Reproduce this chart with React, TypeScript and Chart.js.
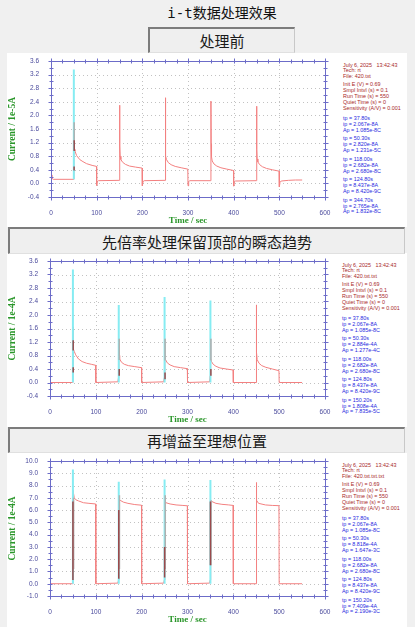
import React, { useEffect, useRef } from "react";
import { Chart, registerables } from "chart.js";
Chart.register(...registerables);

// ---------- data ----------
const timeTicks = [0, 100, 200, 300, 400, 500, 600];

// Panel 1: raw i-t (1e-5 A)
const beforeTrace: [number, number][] = [
  [0, 0.25], [2, 0.15], [5, 0.12], [49.8, 0.12], [50.2, 1.27], [51, 1.0], [52.5, 0.95], [56, 0.82], [63, 0.7], [70, 0.64], [78, 0.58], [90, 0.53], [99.6, 0.5],
  [100, -0.06], [101.5, 0.05], [104, 0.08], [149.8, 0.09],
  [150.2, 2.3], [150.8, 1.1], [151.5, 0.8], [153, 0.7], [157, 0.62], [163, 0.56], [172, 0.51], [185, 0.48], [199.6, 0.45],
  [200, -0.07], [201.5, 0.05], [204, 0.08], [249.8, 0.09],
  [250.2, 2.52], [250.8, 1.1], [251.5, 0.8], [253, 0.7], [257, 0.61], [263, 0.55], [272, 0.5], [285, 0.46], [299.6, 0.42],
  [300, -0.07], [301.5, 0.05], [304, 0.08], [349.8, 0.08],
  [350.2, 2.42], [350.8, 1.15], [351.5, 0.78], [353, 0.66], [357, 0.57], [363, 0.51], [372, 0.46], [385, 0.42], [399.6, 0.38],
  [400, -0.08], [401.5, 0.04], [404, 0.07], [449.8, 0.08],
  [450.2, 2.27], [450.8, 1.0], [451.5, 0.72], [453, 0.63], [457, 0.55], [463, 0.49], [472, 0.44], [485, 0.4], [499.6, 0.36],
  [500, -0.1], [501.5, 0.03], [504, 0.07], [520, 0.09], [535, 0.1], [550, 0.1],
];
const beforeCyan: [number, number, number][] = [[50, 0.12, 3.35]];
const beforeGray: [number, number, number][] = [[50.8, 1.2, 1.8]];
const beforeDark: [number, number, number][] = [[50.8, 0.95, 1.27], [50.6, 0.38, 0.5]];

// Panel 2: scaled, top transient kept (1e-4 A)
const scaledTrace: [number, number][] = [
  [0, 0], [49.8, 0], [50.3, 0.4], [50.6, 1.65], [51, 1.0], [53, 0.92], [56, 0.82], [62, 0.7], [70, 0.62], [80, 0.57], [90, 0.54], [99.6, 0.51], [100, 0],
  [148, 0.02], [149.5, 0.15], [150.2, 1.3], [150.8, 0.8], [152, 0.7], [156, 0.6], [162, 0.54], [171, 0.5], [185, 0.47], [199.6, 0.44], [200, 0],
  [248, 0.02], [249.5, 0.15], [250.2, 1.3], [250.8, 0.78], [252, 0.68], [256, 0.58], [262, 0.52], [271, 0.47], [285, 0.44], [299.6, 0.41], [300, 0],
  [348, 0.02], [349.5, 0.2], [350.2, 1.3], [350.8, 0.72], [352, 0.63], [356, 0.54], [362, 0.48], [371, 0.43], [385, 0.4], [399.6, 0.37], [400, 0],
  [449.8, 0], [450.2, 2.3], [450.8, 0.9], [452, 0.68], [456, 0.57], [462, 0.5], [471, 0.45], [485, 0.4], [499.6, 0.35], [500, 0], [550, 0],
];
const scaledCyan: [number, number, number][] = [[50, 0, 3.35], [150, 0, 2.3], [250, 0, 2.53], [350, 0, 2.43]];
const scaledGray: [number, number, number][] = [[151, 0.67, 1.3], [251, 0.65, 1.3], [351, 0.65, 1.3]];
const scaledDark: [number, number, number][] = [[50.6, 0.95, 1.25], [50.6, 0.3, 0.45], [151, 0.2, 0.4], [251, 0.1, 0.3], [351, 0.2, 0.4]];

// Panel 3: gained to target level (1e-4 A)
const gainedTrace: [number, number][] = [
  [0, 0], [49.8, 0], [50.2, 0.3], [50.8, 7.6], [51.5, 7.4], [53, 7.0], [56, 6.85], [62, 6.75], [73, 6.6], [85, 6.55], [99.6, 6.5], [100, 0],
  [148, 0.05], [149.5, 0.3], [150.5, 6.8], [153, 6.8], [160, 6.65], [170, 6.55], [185, 6.45], [199.6, 6.4], [200, 0],
  [248, 0.05], [249.5, 0.3], [250.5, 6.7], [253, 6.6], [262, 6.5], [275, 6.42], [290, 6.38], [299.6, 6.35], [300, 0],
  [348, 0.05], [349.5, 0.3], [350.5, 6.8], [353, 6.7], [362, 6.55], [375, 6.47], [390, 6.42], [399.6, 6.38], [400, 0],
  [449.8, 0], [450.2, 8.25], [451, 6.8], [455, 6.55], [470, 6.42], [485, 6.38], [499.6, 6.36], [500, 0], [550, 0],
];
const gainedCyan: [number, number, number][] = [[50, 0, 9.3], [150, 0, 8.3], [250, 0, 8.5], [350, 0, 8.45]];
const gainedGray: [number, number, number][] = [[51.5, 1.2, 7.0], [151.5, 1.2, 7.2], [251.5, 1.2, 7.2], [351.5, 1.5, 6.8]];
const gainedDark: [number, number, number][] = [[50, 0.3, 6.7], [150, 0.4, 6.0], [250, 0.5, 3.0], [350, 1.5, 6.7]];

// ---------- texts ----------
const pageTitle = "i-t数据处理效果";
const stepTitles = ["处理前", "先倍率处理保留顶部的瞬态趋势", "再增益至理想位置"];
const xTitle = "Time / sec";
const yTitles = ["Current / 1e-5A", "Current / 1e-4A", "Current / 1e-4A"];
const infoDate = "July 6, 2025   13:42:43";
const infoTech = "Tech: rt";
const infoFiles = ["File: 420.txt", "File: 420.txt.txt", "File: 420.txt.txt.txt"];
const infoParams = ["Init E (V) = 0.69", "Smpl Intvl (s) = 0.1", "Run Time (s) = 550", "Quiet Time (s) = 0", "Sensitivity (A/V) = 0.001"];
const peaksBefore = [
  ["tp = 37.80s", "ip = 2.067e-8A", "Ap = 1.085e-8C"],
  ["tp = 50.30s", "ip = 2.820e-8A", "Ap = 1.231e-5C"],
  ["tp = 118.00s", "ip = 2.682e-8A", "Ap = 2.680e-8C"],
  ["tp = 124.80s", "ip = 8.437e-8A", "Ap = 8.420e-9C"],
  ["tp = 344.70s", "ip = 2.765e-8A", "Ap = 1.832e-8C"],
];
const peaksScaled = [
  ["tp = 37.80s", "ip = 2.067e-8A", "Ap = 1.085e-8C"],
  ["tp = 50.30s", "ip = 2.884e-4A", "Ap = 1.277e-4C"],
  ["tp = 118.00s", "ip = 2.682e-8A", "Ap = 2.680e-8C"],
  ["tp = 124.80s", "ip = 8.437e-8A", "Ap = 8.420e-9C"],
  ["tp = 150.20s", "ip = 1.808e-4A", "Ap = 7.835e-5C"],
];
const peaksGained = [
  ["tp = 37.80s", "ip = 2.067e-8A", "Ap = 1.085e-8C"],
  ["tp = 50.30s", "ip = 8.818e-4A", "Ap = 1.647e-3C"],
  ["tp = 118.00s", "ip = 2.682e-8A", "Ap = 2.680e-8C"],
  ["tp = 124.80s", "ip = 8.437e-8A", "Ap = 8.420e-9C"],
  ["tp = 150.20s", "ip = 7.409e-4A", "Ap = 2.190e-3C"],
];

// ---------- styles ----------
const AXIS = "#6c6cc8";
const TICK_TXT = "#4a4a9c";
const GREEN = "#2a962a";
const RED = "#f38080";
const CYAN = "#86ecf2";
const GRAY = "#b0b0b0";
const DARK = "#9a4a4c";
const SANS = "'Liberation Sans', Arial, sans-serif";
const SERIF = "'Liberation Serif', 'Times New Roman', serif";

const segs = (list: [number, number, number][]) => {
  const out: any[] = [];
  list.forEach(([t, lo, hi]) => {
    out.push({ x: t, y: lo }, { x: t, y: hi }, { x: t, y: null });
  });
  return out;
};

const framePlugin = {
  id: "frame",
  beforeDatasetsDraw(chart: any, _a: any, opts: any) {
    const { ctx, chartArea: a, scales } = chart;
    const x = scales.x, y = scales.y;
    ctx.save();
    ctx.strokeStyle = "#c2c2c2";
    ctx.lineWidth = 1;
    ctx.setLineDash([1, 3]);
    for (let v = x.min + opts.xMajor; v < x.max - 1e-6; v += opts.xMajor) {
      const px = Math.round(x.getPixelForValue(v)) + 0.5;
      ctx.beginPath(); ctx.moveTo(px, a.top); ctx.lineTo(px, a.bottom); ctx.stroke();
    }
    for (let v = y.min + opts.yMajor; v < y.max - 1e-6; v += opts.yMajor) {
      const py = Math.round(y.getPixelForValue(v)) + 0.5;
      ctx.beginPath(); ctx.moveTo(a.left, py); ctx.lineTo(a.right, py); ctx.stroke();
    }
    ctx.restore();
  },
  afterDatasetsDraw(chart: any, _a: any, opts: any) {
    const { ctx, chartArea: a, scales } = chart;
    const x = scales.x, y = scales.y;
    const L = Math.round(a.left) + 0.5, R = Math.round(a.right) + 0.5;
    const T = Math.round(a.top) + 0.5, B = Math.round(a.bottom) + 0.5;
    ctx.save();
    ctx.strokeStyle = AXIS;
    ctx.lineWidth = 1;
    ctx.strokeRect(L, T, R - L, B - T);
    ctx.beginPath();
    const nx = Math.round((x.max - x.min) / opts.xMinor);
    for (let i = 0; i <= nx; i++) {
      const v = x.min + i * opts.xMinor;
      const px = Math.round(x.getPixelForValue(v)) + 0.5;
      const major = i % Math.round(opts.xMajor / opts.xMinor) === 0;
      const d = major ? 3 : 2;
      ctx.moveTo(px, B - 2); ctx.lineTo(px, B + d);
      ctx.moveTo(px, T - d); ctx.lineTo(px, T + 2);
    }
    const ny = Math.round((y.max - y.min) / opts.yMinor);
    for (let i = 0; i <= ny; i++) {
      const v = y.min + i * opts.yMinor;
      const py = Math.round(y.getPixelForValue(v)) + 0.5;
      const major = i % Math.round(opts.yMajor / opts.yMinor) === 0;
      const d = major ? 3 : 2;
      ctx.moveTo(L - d, py); ctx.lineTo(L + 2, py);
      ctx.moveTo(R - 2, py); ctx.lineTo(R + d, py);
    }
    ctx.stroke();
    ctx.restore();
  },
};

type ChartProps = {
  top: number;
  plotLeft: number;
  plotH: number;
  yMin: number;
  yMax: number;
  yStep: number;
  yTitle: string;
  trace: [number, number][];
  cyan: [number, number, number][];
  gray: [number, number, number][];
  dark: [number, number, number][];
};

function ItChart(p: ChartProps) {
  const ref = useRef<HTMLCanvasElement>(null);
  const W = 340;
  const H = 8 + p.plotH + 30;
  useEffect(() => {
    const chart = new Chart(ref.current as HTMLCanvasElement, {
      type: "line",
      data: {
        datasets: [
          { data: segs(p.dark), borderColor: DARK, borderWidth: 1.5, order: 1, spanGaps: false },
          { data: segs(p.gray), borderColor: GRAY, borderWidth: 1.5, order: 2, spanGaps: false },
          { data: segs(p.cyan), borderColor: CYAN, borderWidth: 2, order: 3, spanGaps: false },
          { data: p.trace.map(([t, v]) => ({ x: t, y: v })), borderColor: RED, borderWidth: 1, order: 4 },
        ] as any,
      },
      options: {
        animation: false,
        responsive: false,
        maintainAspectRatio: false,
        layout: { padding: { top: 8, right: W - 325, left: 0, bottom: 0 } },
        elements: { point: { radius: 0 }, line: { tension: 0 } },
        plugins: {
          legend: { display: false },
          tooltip: { enabled: false },
          frame: { xMajor: 100, xMinor: 25, yMajor: p.yStep, yMinor: p.yStep / 2 },
        } as any,
        scales: {
          x: {
            type: "linear",
            min: 0,
            max: 600,
            afterFit: (s: any) => { s.height = 30; },
            afterBuildTicks: (s: any) => { s.ticks = timeTicks.map((v) => ({ value: v })); },
            grid: { display: false },
            border: { display: false },
            ticks: { maxRotation: 0, autoSkip: false, padding: 4, color: TICK_TXT, font: { family: SANS, size: 6.5 }, callback: (v: any) => String(v) },
            title: { display: true, text: xTitle, color: GREEN, font: { family: SERIF, size: 9, weight: "bold" }, padding: { top: 0, bottom: 1 } },
          },
          y: {
            type: "linear",
            min: p.yMin,
            max: p.yMax,
            afterFit: (s: any) => { s.width = p.plotLeft; },
            grid: { display: false },
            border: { display: false },
            ticks: { stepSize: p.yStep, autoSkip: false, padding: 4, color: TICK_TXT, font: { family: SANS, size: 6.5 }, callback: (v: any) => Number(v).toFixed(1) },
            title: { display: true, text: p.yTitle, color: GREEN, font: { family: SERIF, size: 9.5, weight: "bold" }, padding: { top: 7, bottom: 0 } },
          },
        },
      } as any,
      plugins: [framePlugin],
    });
    return () => chart.destroy();
  }, []);
  return (
    <canvas
      ref={ref}
      width={W}
      height={H}
      style={{ position: "absolute", left: 0, top: p.top, width: W, height: H }}
    />
  );
}

function InfoBlock({ left, plotTop, file, peaks }: { left: number; plotTop: number; file: string; peaks: string[][] }) {
  const lines: { text: string; y: number; color: string }[] = [];
  const red = "#a82828";
  const blue = "#2828e0";
  [infoDate, infoTech, file].forEach((t, i) => lines.push({ text: t, y: plotTop + 3.5 + i * 5.6, color: red }));
  infoParams.forEach((t, i) => lines.push({ text: t, y: plotTop + 23 + i * 5.9, color: red }));
  peaks.forEach((g, gi) => g.forEach((t, j) => lines.push({ text: t, y: plotTop + 57 + gi * 20.4 + j * 5.9, color: blue })));
  return (
    <>
      {lines.map((l, i) => (
        <div
          key={i}
          style={{
            position: "absolute",
            left,
            top: l.y - 3,
            height: 6,
            lineHeight: "6px",
            fontSize: "5.4px",
            fontFamily: SANS,
            color: l.color,
            whiteSpace: "pre",
          }}
        >
          {l.text}
        </div>
      ))}
    </>
  );
}

function StepBox({ left, top, width, height, text }: { left: number; top: number; width: number; height: number; text: string }) {
  return (
    <div
      style={{
        position: "absolute",
        left,
        top,
        width,
        height,
        boxSizing: "border-box",
        background: "#efefef",
        borderTop: "2px solid #7c7c7c",
        borderLeft: "2px solid #7c7c7c",
        borderRight: "1px solid #c8c8c8",
        borderBottom: "1px solid #e0e0e0",
        display: "flex",
        alignItems: "center",
        justifyContent: "center",
        fontFamily: "'Noto Sans CJK SC', sans-serif",
        fontWeight: 400,
        fontSize: 15,
        color: "#1a1a1a",
      }}
    >
      {text}
    </div>
  );
}

export default function App() {
  useEffect(() => {
    document.body.style.margin = "0";
  }, []);
  return (
    <div style={{ position: "fixed", left: 0, top: 0, width: 415, height: 627, background: "#f0f0f0", overflow: "hidden" }}>
      <div style={{ position: "absolute", left: 7, top: 53, width: 400, height: 174, background: "#fff" }} />
      <div style={{ position: "absolute", left: 7, top: 253, width: 400, height: 174, background: "#fff" }} />
      <div style={{ position: "absolute", left: 7, top: 453, width: 400, height: 174, background: "#fff" }} />
      <div
        style={{
          position: "absolute",
          left: 0,
          width: 444,
          top: 3,
          height: 20,
          lineHeight: "20px",
          textAlign: "center",
          fontFamily: "'DejaVu Sans Mono', 'Noto Sans CJK SC', monospace",
          fontSize: 14,
          color: "#111",
        }}
      >
        {pageTitle}
      </div>
      <StepBox left={148} top={27} width={147} height={26} text={stepTitles[0]} />
      <StepBox left={8} top={227} width={397} height={27} text={stepTitles[1]} />
      <StepBox left={8} top={427} width={397} height={26} text={stepTitles[2]} />

      <ItChart top={53} plotLeft={51} plotH={136} yMin={-0.4} yMax={3.6} yStep={0.4} yTitle={yTitles[0]} trace={beforeTrace} cyan={beforeCyan} gray={beforeGray} dark={beforeDark} />
      <ItChart top={253} plotLeft={50} plotH={135} yMin={-0.4} yMax={3.6} yStep={0.4} yTitle={yTitles[1]} trace={scaledTrace} cyan={scaledCyan} gray={scaledGray} dark={scaledDark} />
      <ItChart top={453} plotLeft={50} plotH={135} yMin={-1} yMax={10} yStep={1} yTitle={yTitles[2]} trace={gainedTrace} cyan={gainedCyan} gray={gainedGray} dark={gainedDark} />

      <InfoBlock left={343} plotTop={61} file={infoFiles[0]} peaks={peaksBefore} />
      <InfoBlock left={342} plotTop={261} file={infoFiles[1]} peaks={peaksScaled} />
      <InfoBlock left={342} plotTop={461} file={infoFiles[2]} peaks={peaksGained} />
    </div>
  );
}
